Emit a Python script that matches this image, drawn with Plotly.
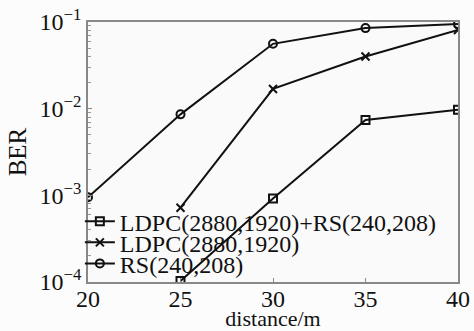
import plotly.graph_objects as go

distance = [20, 25, 30, 35, 40]

# BER vs distance for the three coding schemes
ber_ldpc_rs_x = [25, 30, 35, 40]
ber_ldpc_rs = [1.03e-4, 9.2e-4, 7.4e-3, 9.7e-3]

ber_ldpc_x = [25, 30, 35, 40]
ber_ldpc = [7.2e-4, 1.69e-2, 4.0e-2, 8.1e-2]

ber_rs_x = [20, 25, 30, 35, 40]
ber_rs = [9.5e-4, 8.6e-3, 5.6e-2, 8.5e-2, 9.5e-2]

names = ["LDPC(2880,1920)+RS(240,208)", "LDPC(2880,1920)", "RS(240,208)"]

y_tickvals = [1e-4, 1e-3, 1e-2, 1e-1]
y_ticktext = ["10<sup>−4</sup>", "10<sup>−3</sup>", "10<sup>−2</sup>", "10<sup>−1</sup>"]

serif = "Liberation Serif"
ink = "#111111"

fig = go.Figure()
series = [
    (ber_ldpc_rs_x, ber_ldpc_rs, "square-open", names[0], "legend"),
    (ber_ldpc_x, ber_ldpc, "x-thin-open", names[1], "legend2"),
    (ber_rs_x, ber_rs, "circle-open", names[2], "legend3"),
]
for xs, ys, sym, nm, lg in series:
    fig.add_trace(go.Scatter(
        x=xs, y=ys, name=nm, mode="lines+markers", legend=lg,
        line=dict(color=ink, width=2),
        marker=dict(symbol=sym, size=8, color=ink,
                    line=dict(color=ink, width=2)),
    ))

axis_common = dict(
    showline=True, linecolor="#888888", linewidth=1.5, mirror=True,
    showgrid=False, zeroline=False, automargin=False,
    ticks="inside", ticklen=4, tickcolor="#888888",
    tickfont=dict(family=serif, size=24, color=ink),
)

fig.update_xaxes(
    range=[20, 40], tickvals=distance, ticklabelstandoff=-6,
    title=dict(text="distance/m", font=dict(family=serif, size=22, color=ink), standoff=0),
    **axis_common,
)
fig.update_yaxes(
    type="log", range=[-4, -1],
    tickvals=y_tickvals, ticktext=y_ticktext,
    minor=dict(ticks="inside", ticklen=3, tickcolor="#999999", dtick="D1", showgrid=False),
    title=dict(text="BER", font=dict(family=serif, size=25, color=ink), standoff=6),
    **axis_common,
)

# one compact legend box per series so the rows sit tightly stacked
legend_style = dict(
    xanchor="left", yanchor="middle", x=-0.022,
    bgcolor="rgba(0,0,0,0)", borderwidth=0,
    font=dict(family=serif, size=24, color=ink),
    itemwidth=30,
)
fig.update_layout(
    width=474, height=331,
    margin=dict(l=88, r=16, t=22, b=49, autoexpand=False),
    paper_bgcolor="#fcfcfc", plot_bgcolor="#fafafa",
    font=dict(family=serif, color=ink),
    legend=dict(y=0.232, **legend_style),
    legend2=dict(y=0.151, **legend_style),
    legend3=dict(y=0.070, **legend_style),
    showlegend=True,
)

fig.write_html("out.html")
